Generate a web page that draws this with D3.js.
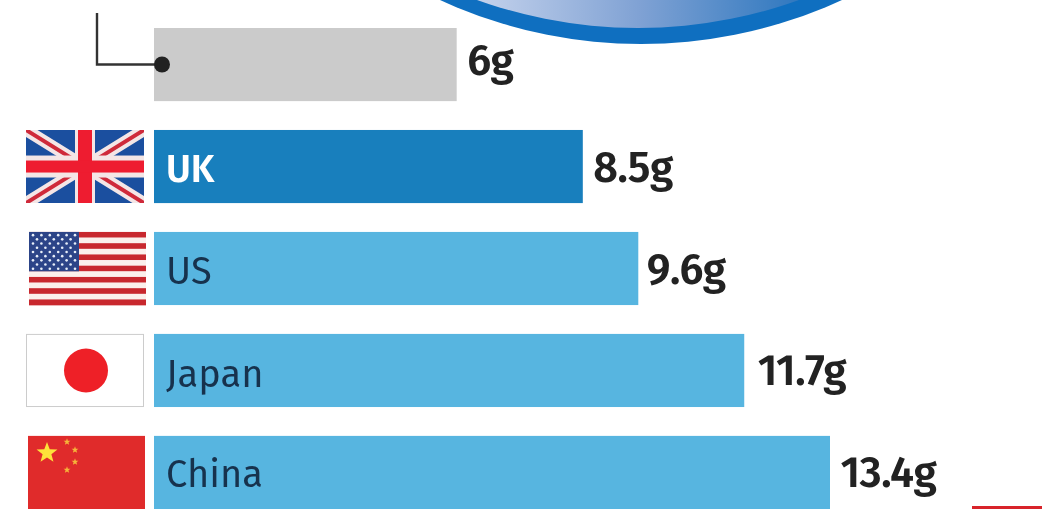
<!DOCTYPE html>
<html><head><meta charset="utf-8"><script src="https://cdn.jsdelivr.net/npm/d3@7/dist/d3.min.js"></script>
<style>html,body{margin:0;padding:0;background:#fff;overflow:hidden}svg{display:block;filter:blur(.4px)}text{font-family:"Fira Sans","Open Sans","Noto Sans",sans-serif}</style></head><body>
<svg id="c" width="1056" height="509"></svg>
<script>
const categories = ["", "UK", "US", "Japan", "China"];
const values = [6, 8.5, 9.6, 11.7, 13.4];
const valueLabels = ["6g", "8.5g", "9.6g", "11.7g", "13.4g"];
const barColors = ["#cbcbcb", "#187fbd", "#57b5e0", "#57b5e0", "#57b5e0"];
const labelColors = ["#fff", "#fff", "#17324d", "#17324d", "#17324d"];
const labelWeights = [400, 600, 400, 400, 400];

const svg = d3.select("#c");
const x = d3.scaleLinear().domain([0, 13.4]).range([154, 830]);
const y = d3.scaleBand().domain(d3.range(5)).range([28, 509]).paddingInner(0.283).paddingOuter(0);
const h = y.bandwidth();

const defs = svg.append("defs");
const g = defs.append("linearGradient").attr("id", "lens").attr("gradientUnits", "userSpaceOnUse")
  .attr("x1", 477).attr("x2", 800).attr("y1", 0).attr("y2", 0);
g.append("stop").attr("offset", 0).attr("stop-color", "#c4d2ec");
g.append("stop").attr("offset", .5).attr("stop-color", "#80a2d4");
g.append("stop").attr("offset", 1).attr("stop-color", "#2f78bf");
defs.append("clipPath").attr("id", "ukClip").append("rect").attr("width", 118).attr("height", h);

svg.append("circle").attr("cx", 641).attr("cy", -437).attr("r", 481).attr("fill", "#0f6fc0");
svg.append("circle").attr("cx", 638).attr("cy", -449).attr("r", 477).attr("fill", "url(#lens)");

svg.selectAll("rect.bar").data(values).join("rect").attr("class", "bar")
  .attr("x", x(0)).attr("y", (d, i) => y(i)).attr("width", d => x(d) - x(0)).attr("height", h)
  .attr("fill", (d, i) => barColors[i]);

svg.selectAll("text.cat").data(categories).join("text").attr("class", "cat")
  .attr("x", x(0) + 12).attr("y", (d, i) => y(i) + h / 2 + (i === 3 ? 17 : 15))
  .attr("font-size", 38).attr("fill", (d, i) => labelColors[i]).attr("font-weight", (d, i) => labelWeights[i])
  .text(d => d);

svg.selectAll("text.val").data(values).join("text").attr("class", "val")
  .attr("x", d => x(d) + 10.5 + (d === 11.7 ? 3 : d === 9.6 ? -2 : 0)).attr("y", (d, i) => y(i) + h / 2 + (i ? 15 : 10))
  .attr("font-size", 43).attr("font-weight", 600).attr("fill", "#222").attr("letter-spacing", -.5)
  .text((d, i) => valueLabels[i]);

// leader
const ly = y(0) + 36.5;
svg.append("path").attr("d", `M97 13V${ly}H160`).attr("fill", "none").attr("stroke", "#333").attr("stroke-width", 2.4);
svg.append("circle").attr("cx", 162).attr("cy", ly).attr("r", 8).attr("fill", "#222");

// flags
const fw = 118;
function flag(i, fx) { return svg.append("g").attr("transform", `translate(${fx},${y(i)})`); }
// UK
{
  const f = flag(1, 26).append("g").attr("clip-path", "url(#ukClip)"), H = h, W = fw;
  f.append("rect").attr("width", W).attr("height", H).attr("fill", "#1b4f9f");
  f.append("path").attr("d", `M0 0L${W} ${H}M${W} 0L0 ${H}`).attr("stroke", "#f4e6e6").attr("stroke-width", 12);
  f.append("path").attr("d", `M0 0L${W} ${H}M${W} 0L0 ${H}`).attr("stroke", "#cf2a3a").attr("stroke-width", 4);
  f.append("rect").attr("x", W/2-10).attr("width", 20).attr("height", H).attr("fill", "#f4e6e6");
  f.append("rect").attr("y", H/2-11).attr("width", W).attr("height", 22).attr("fill", "#f4e6e6");
  f.append("rect").attr("x", W/2-7).attr("width", 14).attr("height", H).attr("fill", "#ee1c30");
  f.append("rect").attr("y", H/2-6).attr("width", W).attr("height", 12).attr("fill", "#ee1c30");
}
// US
{
  const f = flag(2, 29), W = 117, H = h, sh = H / 13;
  d3.range(13).forEach(i => f.append("rect").attr("y", i * sh).attr("width", W).attr("height", sh + .3).attr("fill", i % 2 ? "#fbf0ec" : "#c8282e"));
  f.append("rect").attr("width", 50).attr("height", sh * 7).attr("fill", "#2c4488");
  d3.range(9).forEach(r => d3.range(r % 2 ? 5 : 6).forEach(c =>
    f.append("circle").attr("cx", (r % 2 ? 8 : 4) + c * 8.4).attr("cy", 3.2 + r * 4.2).attr("r", 1.3).attr("fill", "#e8eef8")));
}
// Japan
{
  const f = flag(3, 26);
  f.append("rect").attr("x", .5).attr("y", .5).attr("width", fw - 1).attr("height", h - 1).attr("fill", "#fff").attr("stroke", "#ccc");
  f.append("circle").attr("cx", 60).attr("cy", h / 2).attr("r", 22).attr("fill", "#ee2027");
}
// China
{
  const f = flag(4, 27);
  f.append("rect").attr("x", 1).attr("width", fw - 1).attr("height", h + 5).attr("fill", "#e02b2b");
  const star = (cx, cy, r, c) => f.append("path").attr("d", d3.range(10).map(i => {
    const a = -Math.PI/2 + i * Math.PI / 5, q = i % 2 ? r * .42 : r;
    return (i ? "L" : "M") + (cx + q * Math.cos(a)) + " " + (cy + q * Math.sin(a));
  }).join("") + "Z").attr("fill", c);
  star(20, 17, 11, "#fde23a");
  [[40, 6], [48, 14], [48, 26], [40, 34]].forEach(p => star(p[0], p[1], 3.6, "#f5b53a"));
}
// red fragment
svg.append("rect").attr("x", 972).attr("y", 506).attr("width", 70).attr("height", 3).attr("fill", "#d8232a");
</script></body></html>
